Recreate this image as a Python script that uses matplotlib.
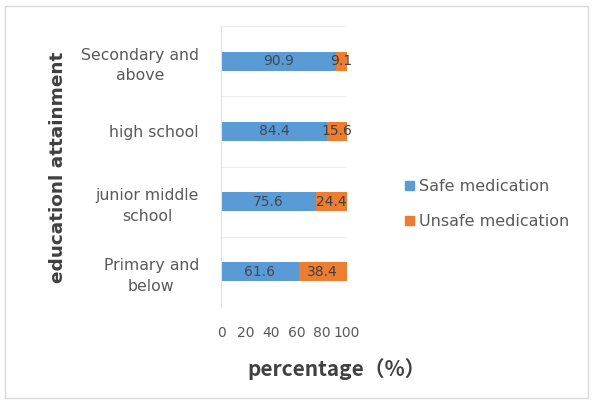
import matplotlib
matplotlib.use("Agg")
import matplotlib.pyplot as plt
from matplotlib.patches import Rectangle

categories = ["Primary and\nbelow", "junior middle\nschool", "high school", "Secondary and\nabove"]
safe = [61.6, 75.6, 84.4, 90.9]
unsafe = [38.4, 24.4, 15.6, 9.1]
xticks = [0, 20, 40, 60, 80, 100]
series_names = ["Safe medication", "Unsafe medication"]

blue = "#5B9BD5"
orange = "#ED7D31"
txt = "#595959"

fig = plt.figure(figsize=(5.93, 4.03), dpi=100)
W, H = 593, 403
# outer frame
fig.patches.append(Rectangle((5 / W, 5 / H), 583 / W, 392 / H, transform=fig.transFigure,
                             fill=False, edgecolor="#D9D9D9", linewidth=1))

ax = fig.add_axes([221 / W, 1 - 307 / H, 126 / W, 281 / H])
y = list(range(len(categories)))
h = 0.27
ax.barh(y, safe, height=h, color=blue, label=series_names[0])
ax.barh(y, unsafe, left=safe, height=h, color=orange, label=series_names[1])
for i in y:
    ax.text(safe[i] / 2, i, f"{safe[i]}", ha="center", va="center", fontsize=10, color="#404858")
    ax.text(safe[i] + unsafe[i] / 2, i, f"{unsafe[i]}", ha="center", va="center", fontsize=10, color="#404040")

ax.set_xlim(0, 100)
ax.set_ylim(-0.5, len(categories) - 0.5)
ax.set_xticks(xticks)
ax.set_xticklabels([str(t) for t in xticks], fontsize=10, color=txt)
ax.set_yticks(y)
ax.set_yticklabels(categories, fontsize=11.3, color=txt, linespacing=1.45, ha="right",
                   multialignment="center")
ax.tick_params(axis="y", length=0, pad=16)
ax.tick_params(axis="x", length=0, pad=14)
for s in ["top", "right", "bottom"]:
    ax.spines[s].set_visible(False)
ax.spines["left"].set_color("#E0E0E0")
for yy in [-0.5, 0.5, 1.5, 2.5, 3.5]:
    ax.axhline(yy, color="#EEEEEE", linewidth=0.8, zorder=0)

fig.text(337 / W, 1 - 369 / H, "percentage（%）", fontsize=15, fontweight="bold", color="#404040",
         family=["Noto Sans CJK SC", "DejaVu Sans"], ha="center", va="center")
fig.text(58 / W, 1 - 167 / H, "educationl attainment", rotation=90, fontsize=13.3,
         fontweight="bold", color="#404040", ha="center", va="center")

handles = [Rectangle((0, 0), 1, 1, color=blue), Rectangle((0, 0), 1, 1, color=orange)]
fig.legend(handles, series_names, loc="center left", bbox_to_anchor=(397 / W, 1 - 204 / H),
           frameon=False, fontsize=11.5, labelcolor=txt, handlelength=0.55, handleheight=0.55,
           handletextpad=0.35, labelspacing=1.25, borderpad=0)

fig.savefig("out.png", dpi=100)
